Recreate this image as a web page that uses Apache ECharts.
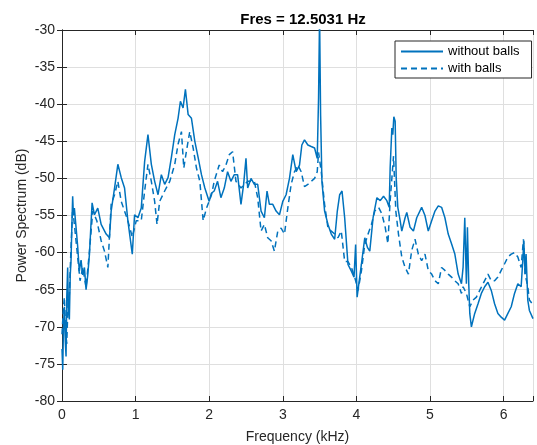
<!DOCTYPE html>
<html>
<head>
<meta charset="utf-8">
<script src="https://cdn.jsdelivr.net/npm/echarts@6/dist/echarts.min.js"></script>
<style>
  html, body { margin: 0; padding: 0; background: #fff; }
  #chart { width: 537px; height: 445px; }
</style>
</head>
<body>
<div id="chart"></div>
<script>
// frequency (kHz) / power (dB)
const withoutFreq = [
  0, 0.01, 0.02, 0.032, 0.045, 0.055, 0.065, 0.077, 0.088, 0.1, 0.112, 0.123, 0.135, 0.145, 0.155,
  0.168, 0.191, 0.214, 0.235, 0.259, 0.28, 0.305, 0.327, 0.35, 0.373,
  0.409, 0.441, 0.486, 0.532, 0.6, 0.645, 0.668, 0.714, 0.759, 0.805, 0.85, 0.895, 0.955, 0.986,
  1.032, 1.077, 1.123, 1.168, 1.214, 1.259, 1.305, 1.35, 1.395, 1.441, 1.486, 1.532, 1.577, 1.609,
  1.645, 1.677, 1.714, 1.759, 1.805, 1.85, 1.895, 1.941, 2.0, 2.03, 2.068, 2.114, 2.159, 2.205,
  2.25, 2.295, 2.341, 2.386, 2.432, 2.468, 2.5, 2.523, 2.568, 2.614, 2.659, 2.705, 2.75, 2.786,
  2.818, 2.864, 2.909, 2.955, 3.0, 3.045, 3.091, 3.136, 3.182, 3.227, 3.259, 3.295, 3.341, 3.386,
  3.432, 3.468, 3.486, 3.5, 3.514, 3.532, 3.568, 3.614, 3.659, 3.705, 3.741, 3.773, 3.805, 3.841,
  3.886, 3.932, 3.968, 3.99, 4.01, 4.068, 4.114, 4.15, 4.182, 4.227, 4.279, 4.324, 4.369, 4.414,
  4.446, 4.459, 4.482, 4.495, 4.509, 4.527, 4.541, 4.563, 4.595, 4.617, 4.662, 4.685, 4.73, 4.775,
  4.82, 4.887, 4.932, 4.977, 5.023, 5.068, 5.113, 5.158, 5.203, 5.248, 5.293, 5.338, 5.383, 5.428,
  5.45, 5.473, 5.495, 5.509, 5.527, 5.541, 5.563, 5.608, 5.653, 5.698, 5.743, 5.788, 5.833, 5.878,
  5.923, 5.968, 6.014, 6.059, 6.104, 6.149, 6.194, 6.239, 6.261, 6.275, 6.293, 6.306, 6.329, 6.351,
  6.4
];
const withoutDb = [
  -73, -75.8, -70, -67.3, -72, -74, -66, -62, -68, -69, -63, -61, -56, -52.4, -55,
  -54, -56.6, -59.3, -62.5, -61, -63, -62, -65, -63, -60.2,
  -53.3, -54.9, -54, -56.2, -57.5, -58, -54.4, -51.3, -48.1, -49.9, -51.3, -55.7, -60.2, -54.9,
  -55.3, -54, -47.7, -44.1, -48.1, -50.4, -52.2, -49.5, -50.8, -49.9, -47.2, -44.1, -41.9, -39.6,
  -40.5, -38, -41.4, -41.9, -45, -47.2, -49.5, -51.3, -53.1, -52, -51.7, -50.4, -52.6, -51.3,
  -49.1, -50.4, -49.5, -49.5, -53.5, -50.8, -47.3, -51.3, -50, -50.8, -50.8, -54.4, -55.3, -51.7,
  -53.5, -53.5, -54.4, -54.9, -53.1, -52.2, -50, -46.8, -49.1, -48.2, -45.5, -44.8, -45.5, -45.7,
  -45.9, -47.3, -39.2, -28, -41.5, -50.4, -54.4, -56.2, -57.5, -58.2, -54.4, -52.2, -51.7, -55.3,
  -61.6, -62.5, -63.3, -58.9, -66, -61.6, -58, -59.3, -59.8, -55.3, -52.6, -53, -52.4, -53,
  -53.9, -48.6, -43.2, -44.1, -41.7, -42.3, -49.9, -53.9, -55.7, -57.1, -55.3, -54.6, -56.6, -57.1,
  -55.3, -53.9, -55, -57.1, -55.7, -54.4, -53.7, -53.9, -55.3, -57.5, -58.8, -60.2, -62.9, -64.2,
  -62, -55.3, -64.2, -56.6, -64.2, -68.2, -70, -68.2, -66.9, -65.5, -64.6, -64, -65.1, -66.9,
  -68.2, -68.7, -69.1, -68.2, -67.3, -65.5, -64.2, -64.6, -61.1, -58.4, -62.9, -60.2, -66.4, -67.8,
  -68.9
];

const withFreq = [
  0, 0.016, 0.032, 0.048, 0.064, 0.082, 0.1, 0.12, 0.145, 0.168, 0.214, 0.245, 0.282, 0.327, 0.373, 0.418, 0.473, 0.532,
  0.577, 0.623, 0.668, 0.714, 0.759, 0.805, 0.85, 0.895, 0.955, 1.009, 1.077, 1.123, 1.168, 1.214,
  1.259, 1.291, 1.327, 1.395, 1.464, 1.532, 1.577, 1.623, 1.655, 1.691, 1.736, 1.782, 1.827, 1.873,
  1.918, 1.964, 2.032, 2.068, 2.136, 2.182, 2.227, 2.273, 2.318, 2.364, 2.432, 2.523, 2.614, 2.659,
  2.705, 2.75, 2.795, 2.841, 2.886, 2.932, 2.977, 3.023, 3.068, 3.114, 3.159, 3.205, 3.25, 3.295,
  3.341, 3.386, 3.432, 3.468, 3.486, 3.523, 3.568, 3.614, 3.659, 3.705, 3.75, 3.795, 3.841, 3.886,
  3.932, 3.977, 4.023, 4.068, 4.114, 4.159, 4.205, 4.25, 4.302, 4.347, 4.392, 4.428, 4.459, 4.505,
  4.536, 4.572, 4.617, 4.662, 4.707, 4.752, 4.797, 4.842, 4.887, 4.932, 4.977, 5.023, 5.068, 5.113,
  5.158, 5.203, 5.248, 5.293, 5.338, 5.383, 5.428, 5.45, 5.495, 5.541, 5.586, 5.631, 5.676, 5.721,
  5.788, 5.833, 5.878, 5.923, 5.968, 6.014, 6.059, 6.104, 6.149, 6.194, 6.239, 6.27, 6.293, 6.329,
  6.351, 6.4
];
const withDb = [
  -71, -68, -66, -70, -72.3, -67, -65.6, -60, -54, -56.2, -60.7, -63.8, -62, -64.7, -59.8, -54.4, -55.7, -58.4,
  -59.8, -62, -53.5, -52.2, -50.4, -53.1, -54.4, -55.7, -57.9, -55.7, -55.7, -51.7, -48.1, -50.4,
  -53.1, -56.2, -53.1, -51.7, -50.4, -48.1, -45.4, -43.7, -48.6, -46.3, -43.7, -45.9, -48.6, -50.4,
  -55.7, -54, -52.2, -50.4, -48.2, -49.1, -48.2, -46.8, -46.4, -50.4, -51.3, -50.4, -50.4, -52.6,
  -57.1, -56.2, -58, -58.4, -59.8, -57.1, -56.7, -57.5, -54, -50.8, -49.1, -48.2, -49.1, -51.1,
  -50.8, -50.4, -50, -49.1, -46.5, -49.1, -53.5, -56.7, -57.1, -57.5, -58, -57.1, -61.2, -61.2,
  -62, -63.3, -65.1, -62.5, -58.9, -57.5, -56.2, -54.4, -53.9, -54.8, -56.6, -58.8, -53, -47,
  -54.4, -57.5, -60.6, -62, -62.9, -59.7, -58.2, -60.2, -61.1, -60.2, -62.4, -62.9, -63.8, -64.2,
  -62, -62.4, -62.9, -63.3, -63.8, -64.2, -65.5, -64.6, -65.5, -67.3, -66.4, -66, -65.1, -64.2,
  -62.9, -63.8, -63.8, -63.3, -62.4, -61.5, -60.6, -60.2, -60, -60.6, -62, -58.2, -62.9, -64.6,
  -66.4, -67
];

const xTicks = [0, 1, 2, 3, 4, 5, 6];

const LINE_COLOR = '#0072BD';
const AXIS_COLOR = '#262626';
const GRID_COLOR = '#dfdfdf';
const FONT = 'Arial, "Liberation Sans", Helvetica, sans-serif';

const chart = echarts.init(document.getElementById('chart'), null, { renderer: 'canvas' });

const pairs = (xs, ys) => xs.map((x, i) => [x, ys[i]]);

const baseAxis = {
  axisLine: { show: true, lineStyle: { color: AXIS_COLOR, width: 1 } },
  axisTick: { show: true, inside: true, length: 5, lineStyle: { color: AXIS_COLOR } },
};

const option = {
  animation: false,
  backgroundColor: '#ffffff',
  title: {
    text: 'Fres = 12.5031 Hz',
    left: 298,
    top: 7,
    textAlign: 'center',
    textStyle: { fontFamily: FONT, fontSize: 15, fontWeight: 'bold', color: '#000' },
  },
  legend: {
    orient: 'vertical',
    left: 395,
    top: 41,
    padding: [4, 12, 3, 5],
    itemGap: 4,
    itemWidth: 42,
    itemHeight: 14,
    borderColor: AXIS_COLOR,
    borderWidth: 1,
    backgroundColor: '#fff',
    itemStyle: { opacity: 0 },
    textStyle: { fontFamily: FONT, fontSize: 13, color: '#000' },
    data: ['without balls', 'with balls'],
  },
  grid: { left: 62, right: 4, top: 30, bottom: 44, containLabel: false, outerBoundsMode: 'none' },
  xAxis: [
    {
      ...baseAxis,
      type: 'value',
      min: 0,
      max: 6.4,
      interval: 1,
      name: 'Frequency (kHz)',
      nameLocation: 'middle',
      nameGap: 29,
      nameMoveOverlap: false,
      nameTextStyle: { fontFamily: FONT, fontSize: 14, color: AXIS_COLOR },
      axisLabel: {
        margin: 7,
        fontFamily: FONT,
        fontSize: 14,
        color: AXIS_COLOR,
        formatter: (v) => (xTicks.includes(v) ? String(v) : ''),
      },
      splitLine: { show: true, lineStyle: { color: GRID_COLOR, width: 1 } },
    },
    {
      ...baseAxis,
      type: 'value',
      position: 'top',
      min: 0,
      max: 6.4,
      interval: 1,
      axisLabel: { show: false },
      splitLine: { show: false },
    },
  ],
  yAxis: [
    {
      ...baseAxis,
      type: 'value',
      min: -80,
      max: -30,
      interval: 5,
      name: 'Power Spectrum (dB)',
      nameLocation: 'middle',
      nameGap: 33,
      nameMoveOverlap: false,
      nameTextStyle: { fontFamily: FONT, fontSize: 14, color: AXIS_COLOR },
      axisLabel: { margin: 7, fontFamily: FONT, fontSize: 14, color: AXIS_COLOR },
      splitLine: { show: true, lineStyle: { color: GRID_COLOR, width: 1 } },
    },
    {
      ...baseAxis,
      type: 'value',
      position: 'right',
      min: -80,
      max: -30,
      interval: 5,
      axisLabel: { show: false },
      splitLine: { show: false },
    },
  ],
  series: [
    {
      name: 'without balls',
      type: 'line',
      data: pairs(withoutFreq, withoutDb),
      showSymbol: false,
      symbol: 'none',
      clip: true,
      lineStyle: { color: LINE_COLOR, width: 1.5 },
      itemStyle: { color: LINE_COLOR },
    },
    {
      name: 'with balls',
      type: 'line',
      data: pairs(withFreq, withDb),
      showSymbol: false,
      symbol: 'none',
      clip: true,
      lineStyle: { color: LINE_COLOR, width: 1.5, type: [6, 4] },
      itemStyle: { color: LINE_COLOR },
    },
  ],
};

chart.setOption(option);
</script>
</body>
</html>
